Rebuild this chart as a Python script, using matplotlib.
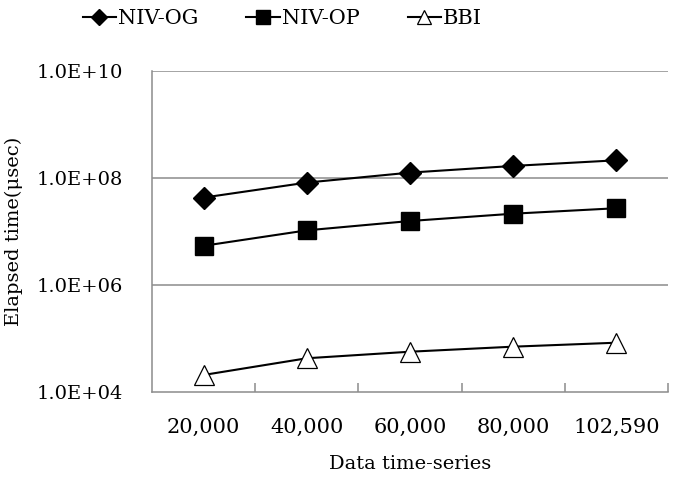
import numpy as np
import matplotlib
matplotlib.use("Agg")
import matplotlib.pyplot as plt
from matplotlib.ticker import FixedLocator, NullFormatter

plt.rcParams['font.family'] = ['DejaVu Serif']

categories = ["20,000", "40,000", "60,000", "80,000", "102,590"]
niv_og = [4.3e7, 8.2e7, 1.26e8, 1.68e8, 2.14e8]
niv_op = [5.4e6, 1.05e7, 1.57e7, 2.15e7, 2.72e7]
bbi = [2.08e4, 4.27e4, 5.66e4, 7.03e4, 8.34e4]
ytick_vals = [1e4, 1e6, 1e8, 1e10]
ytick_labels = ["1.0E+04", "1.0E+06", "1.0E+08", "1.0E+10"]

gray = "#8c8c8c"

fig = plt.figure(figsize=(6.74, 4.96), dpi=100)
ax = fig.add_axes([0.2255, 0.2097, 0.7655, 0.6472])

x = np.arange(len(categories))
ax.plot(x, niv_og, color="black", lw=1.5, marker="D", ms=11, label="NIV-OG")
ax.plot(x, niv_op, color="black", lw=1.5, marker="s", ms=13.5, label="NIV-OP")
ax.plot(x, bbi, color="black", lw=1.5, marker="^", ms=14, mfc="white",
        mec="black", mew=0.9, label="BBI")

ax.set_yscale("log")
ax.set_ylim(1e4, 1e10)
ax.set_xlim(-0.5, len(categories) - 0.5)
ax.yaxis.set_major_locator(FixedLocator(ytick_vals))
ax.set_yticklabels(ytick_labels)
ax.yaxis.set_minor_locator(FixedLocator([]))
ax.yaxis.set_minor_formatter(NullFormatter())
ax.tick_params(axis="y", length=0, pad=21, labelsize=14)

ax.set_xticks(x)
ax.set_xticklabels(categories)
ax.set_xticks(np.arange(len(categories)) + 0.5, minor=True)
ax.tick_params(axis="x", which="major", length=0, pad=19, labelsize=15)
ax.tick_params(axis="x", which="minor", direction="in", length=6.5, width=1.1, color=gray)

for val in ytick_vals[1:]:
    ax.axhline(val, color=gray, lw=1.1, zorder=0)

for side in ["top", "right"]:
    ax.spines[side].set_visible(False)
for side in ["left", "bottom"]:
    ax.spines[side].set_color(gray)
    ax.spines[side].set_linewidth(1.1)

ax.set_xlabel("Data time-series", fontsize=14, labelpad=13)
ax.set_ylabel("Elapsed time(\u03bcsec)", fontsize=14, labelpad=10)

fig.legend(loc="center left", bbox_to_anchor=(0.095, 0.963), ncol=3, frameon=False,
           fontsize=15, handlelength=1.6, handletextpad=0.1, columnspacing=2.3,
           markerscale=0.75)

fig.savefig("out.png", dpi=100)
